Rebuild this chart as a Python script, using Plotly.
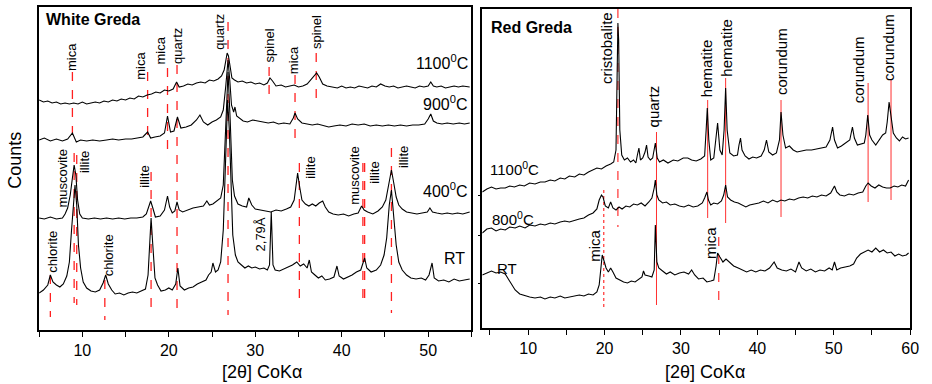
import plotly.graph_objects as go

# ---------------- White Greda (left panel) : (2theta, counts) ----------------
wg_1100 = [(5.0,300),(5.5,298),(6.0,299),(6.5,297),(7.0,298),(7.5,296),(8.0,297),(8.5,296),(9.0,297),(9.5,296),(10.0,298),(10.5,296),(11.0,297),(11.5,298),(12.0,297),(12.5,299),(13.0,298),(13.5,300),(14.0,299),(14.5,301),(15.0,300),(15.5,302),(16.0,301),(16.5,304),(17.0,303),(17.5,305),(18.0,306),(18.5,308),(19.0,307),(19.5,310),(20.0,309),(20.5,311),(20.9,318),(21.2,313),(21.7,314),(22.2,316),(22.7,315),(23.2,317),(23.7,318),(24.2,317),(24.7,320),(25.2,319),(25.7,321),(26.1,324),(26.4,330),(26.6,342),(26.75,347),(26.9,344),(27.1,330),(27.3,322),(27.6,320),(28.0,318),(28.5,319),(29.0,317),(29.5,318),(30.0,316),(30.5,317),(31.0,315),(31.4,317),(31.7,322),(32.0,319),(32.4,314),(33.0,315),(33.5,313),(34.0,314),(34.5,315),(35.0,313),(35.5,314),(36.0,316),(36.4,320),(36.8,324),(37.1,327),(37.4,323),(37.8,316),(38.3,314),(38.8,313),(39.5,312),(40.0,314),(40.5,312),(41.0,313),(41.5,312),(42.0,314),(42.5,313),(43.0,312),(43.5,314),(44.0,313),(44.5,316),(45.0,314),(45.5,313),(46.0,314),(46.5,312),(47.0,313),(47.5,314),(48.0,313),(48.5,312),(49.0,314),(49.5,313),(50.0,314),(50.3,318),(50.6,314),(51.0,313),(51.5,314),(52.0,312),(52.5,313),(53.0,314),(53.5,313),(54.0,314),(54.8,313)]
wg_900 = [(5.0,260),(5.6,262),(6.3,259),(7.0,261),(7.7,259),(8.3,261),(8.85,267),(9.3,258),(9.8,260),(10.5,259),(11.2,260),(12.0,259),(12.8,260),(13.5,261),(14.2,260),(15.0,261),(15.7,261),(16.4,262),(17.0,263),(17.55,268),(17.9,262),(18.4,263),(19.0,264),(19.5,267),(19.85,284),(20.2,268),(20.6,269),(21.0,283),(21.4,272),(22.0,273),(22.6,275),(23.2,280),(23.6,285),(24.0,278),(24.5,275),(25.0,278),(25.5,280),(26.0,283),(26.3,290),(26.6,315),(26.85,340),(27.05,320),(27.25,295),(27.5,288),(27.65,293),(27.85,284),(28.2,282),(28.6,279),(29.1,278),(29.7,280),(30.3,279),(30.9,278),(31.5,277),(32.1,278),(32.7,276),(33.3,277),(34.0,276),(34.4,282),(34.6,287),(34.9,281),(35.4,277),(36.0,276),(36.6,275),(37.2,276),(37.9,274),(38.5,273),(39.1,274),(39.8,275),(40.5,274),(41.2,276),(41.9,275),(42.6,276),(43.3,274),(44.0,275),(44.7,274),(45.4,275),(46.1,274),(46.8,275),(47.5,274),(48.2,275),(48.9,275),(49.6,276),(50.0,281),(50.3,286),(50.6,279),(51.0,277),(51.6,276),(52.2,277),(52.9,276),(53.6,277),(54.2,276),(54.8,277)]
wg_400 = [(5.0,182),(5.6,181),(6.3,183),(7.0,181),(7.7,182),(8.0,186),(8.3,192),(8.6,205),(8.85,222),(9.05,235),(9.25,225),(9.45,200),(9.7,186),(10.0,182),(10.7,181),(11.4,182),(12.1,181),(12.8,182),(13.5,181),(14.2,182),(14.9,181),(15.6,182),(16.3,182),(17.0,183),(17.4,186),(17.7,194),(17.9,199),(18.15,192),(18.45,183),(19.0,184),(19.5,190),(19.85,204),(20.1,193),(20.4,187),(20.7,189),(20.95,198),(21.2,190),(21.6,188),(22.2,190),(22.8,192),(23.4,193),(24.0,194),(24.4,199),(24.7,195),(25.1,196),(25.6,199),(26.0,202),(26.3,215),(26.6,280),(26.85,328),(27.1,280),(27.35,220),(27.6,204),(28.0,196),(28.5,194),(29.0,193),(29.25,202),(29.6,195),(30.0,191),(30.6,190),(31.2,189),(31.8,188),(32.4,190),(33.0,189),(33.6,191),(34.1,193),(34.5,200),(34.75,218),(34.9,227),(35.1,215),(35.4,200),(35.8,196),(36.2,194),(36.6,196),(37.0,194),(37.4,197),(37.8,199),(38.1,193),(38.5,188),(39.0,186),(39.6,185),(40.2,186),(40.8,184),(41.4,186),(41.9,187),(42.3,194),(42.6,190),(43.0,188),(43.6,186),(44.2,189),(44.7,193),(45.1,200),(45.45,215),(45.75,230),(46.0,218),(46.3,203),(46.6,195),(47.0,191),(47.5,188),(48.1,187),(48.7,186),(49.3,187),(49.9,188),(50.2,192),(50.5,188),(51.0,187),(51.6,186),(52.2,187),(52.8,186),(53.4,187),(54.0,186),(54.8,188)]
wg_rt = [(5.0,107),(5.5,110),(6.0,115),(6.3,125),(6.6,118),(7.0,115),(7.4,113),(7.8,116),(8.2,124),(8.5,138),(8.75,170),(9.0,205),(9.15,215),(9.35,195),(9.55,155),(9.8,132),(10.1,118),(10.5,112),(11.0,109),(11.5,108),(12.0,110),(12.4,117),(12.7,125),(13.0,116),(13.4,110),(13.8,106),(14.3,107),(14.8,105),(15.3,107),(15.8,108),(16.3,107),(16.8,109),(17.3,111),(17.6,125),(17.8,160),(17.95,182),(18.15,155),(18.4,122),(18.7,115),(19.1,109),(19.6,110),(20.0,112),(20.4,110),(20.8,116),(21.05,132),(21.3,114),(21.8,110),(22.3,112),(22.8,113),(23.3,116),(23.8,118),(24.3,120),(24.6,125),(24.9,128),(25.1,137),(25.4,128),(25.7,130),(26.0,138),(26.3,170),(26.55,240),(26.8,300),(27.0,270),(27.2,210),(27.4,165),(27.7,145),(28.0,138),(28.4,135),(28.8,132),(29.2,134),(29.6,132),(30.0,133),(30.5,131),(31.0,132),(31.4,130),(31.65,135),(31.85,188),(32.05,135),(32.3,130),(32.8,129),(33.3,131),(33.8,133),(34.3,135),(34.8,138),(35.2,134),(35.6,136),(36.0,132),(36.25,140),(36.5,128),(36.9,125),(37.3,122),(37.7,124),(38.1,120),(38.6,121),(39.1,123),(39.45,134),(39.7,124),(40.2,121),(40.7,123),(41.2,125),(41.7,128),(42.2,130),(42.65,142),(42.9,132),(43.4,128),(44.0,130),(44.5,135),(44.9,145),(45.2,162),(45.5,195),(45.75,210),(46.0,185),(46.3,155),(46.6,138),(47.0,130),(47.5,125),(48.0,122),(48.6,121),(49.2,122),(49.7,120),(50.1,125),(50.45,137),(50.7,122),(51.2,119),(51.8,120),(52.4,118),(53.0,121),(53.6,119),(54.2,120),(54.8,121)]

# ---------------- Red Greda (right panel) ----------------
rg_1100 = [(4.0,208),(4.6,211),(5.2,213),(5.8,211),(6.4,212),(7.0,212),(7.6,214),(8.2,213),(8.9,215),(9.5,214),(10.2,217),(10.9,216),(11.6,218),(12.2,218),(12.9,220),(13.5,219),(14.2,222),(14.8,221),(15.4,224),(16.1,223),(16.7,226),(17.3,225),(17.9,228),(18.5,230),(19.0,232),(19.6,231),(20.2,234),(20.8,236),(21.2,238),(21.5,250),(21.65,330),(21.75,377),(21.85,360),(22.0,270),(22.25,245),(22.6,240),(23.0,242),(23.4,238),(23.8,240),(24.1,237),(24.3,245),(24.5,252),(24.7,240),(25.0,242),(25.3,248),(25.5,255),(25.7,243),(26.0,240),(26.3,242),(26.5,250),(26.65,257),(26.9,242),(27.2,238),(27.7,240),(28.3,237),(29.0,240),(29.6,239),(30.3,242),(30.9,242),(31.4,240),(32.0,239),(32.6,241),(33.1,244),(33.3,270),(33.45,292),(33.65,260),(33.9,240),(34.3,242),(34.6,265),(34.8,277),(35.1,250),(35.4,245),(35.65,270),(35.85,312),(36.05,270),(36.4,247),(36.9,244),(37.4,245),(37.6,255),(37.8,262),(38.0,250),(38.4,244),(38.9,241),(39.4,243),(39.9,242),(40.5,244),(40.9,250),(41.2,260),(41.5,248),(42.0,245),(42.5,247),(42.9,260),(43.1,288),(43.35,265),(43.7,252),(44.2,254),(44.7,250),(45.2,248),(45.8,249),(46.4,250),(47.1,250),(47.7,251),(48.4,252),(49.0,253),(49.5,260),(49.85,273),(50.1,260),(50.5,252),(51.0,254),(51.6,257),(52.1,260),(52.45,273),(52.7,262),(53.1,255),(53.6,256),(54.0,257),(54.2,265),(54.45,285),(54.7,265),(55.0,260),(55.5,255),(56.0,260),(56.4,265),(56.8,267),(57.0,278),(57.25,298),(57.5,282),(57.8,267),(58.2,262),(58.6,259),(59.0,263),(59.4,261),(59.8,262)]
rg_800 = [(4.0,167),(4.6,171),(5.2,172),(5.8,169),(6.4,171),(7.0,170),(7.6,173),(8.3,172),(8.9,174),(9.6,172),(10.2,175),(10.9,174),(11.6,176),(12.2,175),(12.9,177),(13.5,176),(14.2,178),(14.8,179),(15.4,178),(16.1,180),(16.7,181),(17.3,182),(17.9,185),(18.5,187),(19.0,191),(19.3,200),(19.6,205),(19.8,203),(20.1,194),(20.5,192),(20.8,198),(21.1,192),(21.5,190),(21.9,193),(22.3,191),(22.8,194),(23.3,193),(23.8,196),(24.3,195),(24.8,197),(25.3,194),(25.8,198),(26.2,202),(26.5,212),(26.65,220),(26.85,205),(27.1,200),(27.6,197),(28.1,198),(28.6,195),(29.2,196),(29.8,194),(30.4,193),(31.0,195),(31.6,193),(32.2,194),(32.8,197),(33.1,202),(33.4,208),(33.6,200),(33.9,195),(34.3,197),(34.8,196),(35.3,199),(35.6,205),(35.85,215),(36.1,203),(36.5,200),(37.0,198),(37.5,197),(38.0,195),(38.5,193),(39.0,195),(39.6,196),(40.2,197),(40.8,199),(41.4,197),(42.0,200),(42.6,198),(43.1,200),(43.6,199),(44.2,201),(44.8,200),(45.4,202),(46.0,203),(46.6,202),(47.2,204),(47.8,203),(48.4,205),(49.0,204),(49.6,207),(50.1,214),(50.4,208),(50.8,205),(51.4,204),(52.0,206),(52.6,205),(53.2,207),(53.8,208),(54.2,214),(54.5,217),(54.9,214),(55.4,212),(55.9,215),(56.4,213),(56.9,212),(57.4,212),(57.9,214),(58.4,213),(58.9,215),(59.4,214),(59.8,220)]
rg_rt = [(4.0,125),(4.6,127),(5.2,129),(5.8,127),(6.4,128),(7.0,126),(7.4,121),(7.8,115),(8.3,110),(8.9,106),(9.6,104),(10.2,103),(10.9,102),(11.6,103),(12.2,101),(12.9,103),(13.5,102),(14.2,104),(14.8,102),(15.4,103),(16.1,104),(16.7,105),(17.3,104),(17.9,106),(18.5,105),(19.0,108),(19.3,115),(19.55,138),(19.7,145),(19.9,140),(20.2,132),(20.5,128),(20.8,132),(21.1,128),(21.5,122),(22.0,120),(22.5,118),(23.0,117),(23.5,119),(24.0,118),(24.5,121),(24.9,123),(25.1,129),(25.3,125),(25.8,124),(26.2,123),(26.5,130),(26.65,175),(26.85,138),(27.1,132),(27.6,129),(28.1,126),(28.6,128),(29.2,125),(29.8,127),(30.4,128),(31.0,126),(31.4,130),(31.8,125),(32.3,121),(32.9,122),(33.4,118),(33.9,119),(34.3,120),(34.6,134),(34.8,147),(35.1,143),(35.5,138),(35.9,141),(36.4,137),(36.9,134),(37.5,132),(38.0,130),(38.6,128),(39.2,130),(39.8,128),(40.4,130),(41.0,129),(41.6,132),(42.2,138),(42.6,132),(43.2,130),(43.8,129),(44.4,131),(45.0,128),(45.45,138),(45.8,132),(46.4,129),(47.0,131),(47.6,128),(48.2,130),(48.8,129),(49.4,132),(49.8,130),(50.1,138),(50.4,130),(50.9,132),(51.5,133),(52.1,134),(52.6,136),(53.0,142),(53.5,146),(54.0,148),(54.5,150),(55.0,148),(55.5,152),(56.0,148),(56.5,150),(57.0,147),(57.5,148),(58.0,144),(58.5,146),(59.0,144),(59.5,145),(59.8,147)]

# phase markers: (2theta, top counts, bottom counts)
wg_marks = [(8.85,328,267),(17.55,328,260),(19.85,332,247),(20.95,335,90),(26.85,378,85),
            (31.6,333,305),(34.6,325,255),(37.05,347,302),(9.05,247,97),(9.35,245,95),
            (17.95,228,85),(35.1,237,95),(42.45,237,98),(42.65,237,98),(45.75,252,87),
            (6.3,125,83),(12.6,120,80)]
wg_labels = [("mica",8.8,343),("mica",16.75,334),("mica",19.15,350),("quartz",21.05,354),
             ("quartz",25.9,368),("spinel",31.75,355),("mica",34.5,340),("spinel",37.15,368),
             ("muscovite",7.6,222),("illite",10.2,238),("illite",17.1,223),("illite",36.3,232),
             ("muscovite",41.4,225),("illite",43.7,227),("illite",47.1,243),
             ("chlorite",6.45,148),("chlorite",13.0,145),("2,79Å",30.6,166)]
wg_temps = [("1100<sup>0</sup>C",54.8,338),("900<sup>0</sup>C",54.8,297),
            ("400<sup>0</sup>C",54.8,210),("RT",54.5,142)]

rg_marks = [(21.75,391,173,"dash"),(26.8,268,95,"solid"),(19.9,210,92,"dot"),
            (33.5,300,182,"solid"),(35.85,322,177,"solid"),(43.1,300,183,"solid"),
            (54.5,317,198,"solid"),(57.5,320,200,"solid"),(34.95,163,92,"dash")]
rg_labels = [("cristobalite",20.2,352),("quartz",26.4,294),("mica",18.6,154),
             ("hematite",33.3,332),("hematite",35.85,352),("corundum",43.1,338),
             ("corundum",53.2,330),("corundum",57.1,353),("mica",33.8,157)]
rg_temps = [("1100<sup>0</sup>C",4.8,232),("800<sup>0</sup>C",5.0,182),("RT",5.7,132)]

FONT = "Liberation Sans, Arial, sans-serif"
fig = go.Figure()

for series in (wg_1100, wg_900, wg_400, wg_rt):
    fig.add_trace(go.Scatter(x=[p[0] for p in series], y=[p[1] for p in series],
                             mode="lines", line=dict(color="black", width=1.1),
                             xaxis="x", yaxis="y", showlegend=False, hoverinfo="skip"))
for series in (rg_1100, rg_800, rg_rt):
    fig.add_trace(go.Scatter(x=[p[0] for p in series], y=[p[1] for p in series],
                             mode="lines", line=dict(color="black", width=1.1),
                             xaxis="x2", yaxis="y2", showlegend=False, hoverinfo="skip"))

shapes = []
for x, y0, y1 in wg_marks:
    shapes.append(dict(type="line", xref="x", yref="y", x0=x, x1=x, y0=y0, y1=y1,
                       line=dict(color="#ff2020", width=1.3, dash="dash"), layer="below"))
for x, y0, y1, d in rg_marks:
    shapes.append(dict(type="line", xref="x2", yref="y2", x0=x, x1=x, y0=y0, y1=y1,
                       line=dict(color="#ff3030", width=1.2 if d != "solid" else 1, dash=d), layer="below"))

ann = []
for t, x, y in wg_labels:
    ann.append(dict(text=t, x=x, y=y, xref="x", yref="y", textangle=-90, showarrow=False,
                    xanchor="center", yanchor="middle", font=dict(size=13, color="black", family=FONT)))
for t, x, y in rg_labels:
    ann.append(dict(text=t, x=x, y=y, xref="x2", yref="y2", textangle=-90, showarrow=False,
                    xanchor="center", yanchor="middle", font=dict(size=15, color="black", family=FONT)))
for t, x, y in wg_temps:
    ann.append(dict(text=t, x=x, y=y, xref="x", yref="y", showarrow=False,
                    xanchor="right", yanchor="middle", font=dict(size=16, color="black", family=FONT)))
for t, x, y in rg_temps:
    ann.append(dict(text=t, x=x, y=y, xref="x2", yref="y2", showarrow=False,
                    xanchor="left", yanchor="middle", font=dict(size=15, color="black", family=FONT)))
ann.append(dict(text="<b>White Greda</b>", x=5.6, y=380, xref="x", yref="y", showarrow=False,
                xanchor="left", yanchor="middle", font=dict(size=16, color="black", family=FONT)))
ann.append(dict(text="<b>Red Greda</b>", x=4.9, y=373, xref="x2", yref="y2", showarrow=False,
                xanchor="left", yanchor="middle", font=dict(size=16, color="black", family=FONT)))
ann.append(dict(text="[2θ] CoKα", x=265/932, y=1-372/384, xref="paper", yref="paper", showarrow=False,
                xanchor="center", yanchor="middle", font=dict(size=18, color="black", family=FONT)))
ann.append(dict(text="[2θ] CoKα", x=712/932, y=1-372/384, xref="paper", yref="paper", showarrow=False,
                xanchor="center", yanchor="middle", font=dict(size=18, color="black", family=FONT)))
ann.append(dict(text="Counts", x=15/932, y=1-160/384, xref="paper", yref="paper", showarrow=False,
                textangle=-90, xanchor="center", yanchor="middle", font=dict(size=18, color="black", family=FONT)))

def xax(domain, rng, anchor):
    return dict(domain=domain, range=rng, anchor=anchor, tickmode="linear", tick0=0, dtick=10,
                ticks="outside", ticklen=5, tickwidth=1.2, tickcolor="black",
                minor=dict(tickmode="linear", tick0=5, dtick=10, ticks="outside", ticklen=5,
                           tickwidth=1.2, tickcolor="black", showgrid=False),
                showline=True, linecolor="black", linewidth=1.5, mirror=True,
                showgrid=False, zeroline=False, tickfont=dict(size=16, color="black", family=FONT))

fig.update_layout(
    width=932, height=384, margin=dict(l=0, r=0, t=0, b=0),
    paper_bgcolor="white", plot_bgcolor="white",
    xaxis=xax([39.5/932, 476/932], [5, 55], "y"),
    xaxis2=xax([487/932, 919/932], [4, 60], "y2"),
    yaxis=dict(domain=[54/384, 377/384], range=[70, 393], anchor="x", showticklabels=False,
               ticks="", showline=True, linecolor="black", linewidth=1.5, mirror=True,
               showgrid=False, zeroline=False),
    yaxis2=dict(domain=[56/384, 375/384], range=[72, 391], anchor="x2", showticklabels=False,
                tickmode="array", tickvals=[117, 165, 205], ticks="outside", ticklen=3,
                tickcolor="black", showline=True, linecolor="black", linewidth=1.5, mirror=True,
                showgrid=False, zeroline=False),
    shapes=shapes, annotations=ann, showlegend=False,
)

fig.write_html("out.html")
